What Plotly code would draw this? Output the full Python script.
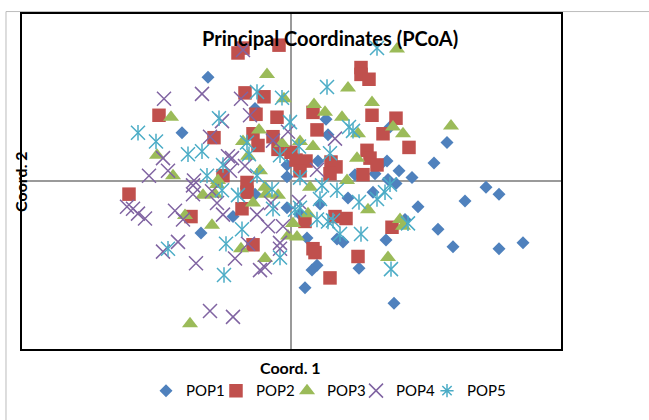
import plotly.graph_objects as go

# PCoA coordinates (Coord. 1, Coord. 2)
pop1 = [(-0.83, 1.06), (-1.09, 0.49), (-0.36, 0.74), (0.35, 0.63), (0.37, 0.47), (0.27, 0.20),
        (-0.04, 0.16), (-0.04, 0.04), (0.99, 0.55), (1.56, 0.39), (1.43, 0.18), (0.96, 0.20),
        (1.08, 0.10), (1.21, 0.03), (0.64, 0.06), (0.84, 0.07), (0.89, 0.16), (0.97, 0.01),
        (1.05, -0.03), (-0.90, -0.54), (-0.36, -0.14), (-0.58, -0.37), (-0.04, -0.28), (0.09, -0.35),
        (0.16, -0.59), (0.29, -0.24), (0.57, -0.18), (0.46, -0.60), (0.52, -0.63), (0.26, -0.87),
        (0.21, -0.92), (0.14, -1.10), (0.82, -0.12), (1.27, -0.27), (1.74, -0.21), (1.95, -0.07),
        (2.08, -0.14), (1.14, -0.40), (0.95, -0.61), (1.47, -0.50), (1.62, -0.68), (2.08, -0.70),
        (2.32, -0.64), (0.68, -0.90), (1.03, -1.26)]

pop2 = [(-0.53, 1.31), (-0.48, 1.36), (-0.12, 1.39), (-0.46, 0.90), (-0.27, 0.86), (-0.35, 0.68),
        (-0.14, 0.65), (-1.32, 0.67), (-0.77, 0.44), (-0.38, 0.48), (-0.18, 0.45), (-0.33, 0.36),
        (-0.13, 0.32), (0.00, 0.29), (0.05, 0.21), (0.15, 0.20), (0.40, 0.19), (0.45, 0.14),
        (0.39, 0.07), (0.09, 0.10), (-0.44, -0.02), (-0.68, 0.05), (0.22, 0.70), (0.26, 0.52),
        (0.70, 1.16), (0.70, 1.09), (0.78, 1.04), (0.81, 0.67), (1.05, 0.64), (0.92, 0.48),
        (1.18, 0.34), (0.76, 0.31), (0.79, 0.23), (0.86, 0.16), (0.72, 0.06), (-1.62, -0.14),
        (-1.00, -0.37), (-0.44, -0.12), (-0.49, -0.29), (0.14, -0.42), (0.44, -0.37), (0.55, -0.39),
        (-0.38, -0.66), (0.22, -0.70), (0.24, -0.74), (0.39, -1.00), (1.01, -0.48), (0.67, -0.78)]

pop3 = [(-1.20, 0.65), (-1.34, 0.26), (-1.18, 0.05), (-0.73, 0.00), (-0.24, 1.09), (0.57, 0.95),
        (-0.07, 0.84), (0.23, 0.78), (0.34, 0.70), (0.51, 0.65), (-0.32, 0.52), (-0.48, 0.40),
        (-0.09, 0.38), (0.09, 0.40), (0.22, 0.35), (-0.31, 0.10), (-0.43, 0.25), (0.56, 0.00),
        (1.06, 1.35), (0.81, 0.80), (0.67, 0.48), (1.02, 0.55), (1.12, 0.48), (1.60, 0.56),
        (0.66, 0.23), (-1.06, -0.36), (-0.79, -0.46), (-0.88, -0.15), (-0.76, -0.14), (-0.74, -0.04),
        (-0.38, -0.23), (-0.26, -0.07), (-0.25, -0.14), (-0.13, -0.15), (0.17, -0.34), (0.02, -0.44),
        (-0.03, -0.57), (0.06, -0.58), (0.19, -0.07), (-0.50, -0.70), (-0.26, -0.80), (0.77, -0.30),
        (1.09, -0.40), (1.12, -0.47), (0.97, -0.79), (-1.01, -1.47)]

pop4 = [(-0.48, 1.34), (-0.89, 0.89), (-1.27, 0.84), (-0.69, 0.61), (-0.81, 0.45), (-1.28, 0.23),
        (-1.23, 0.10), (-1.42, 0.05), (-0.97, 0.00), (-0.63, 0.25), (-0.50, 0.84), (-0.41, 0.67),
        (0.44, 0.43), (-0.03, 0.50), (-0.18, 0.41), (-0.59, 0.23), (-0.46, 0.15), (-0.61, 0.10),
        (0.26, 0.11), (-1.64, -0.27), (-1.58, -0.29), (-1.53, -0.34), (-1.46, -0.39), (-1.16, -0.31),
        (-1.08, -0.40), (-0.98, -0.05), (-0.98, -0.14), (-0.79, -0.11), (-0.74, -0.23), (-0.68, -0.35),
        (-1.13, -0.63), (-1.28, -0.73), (-0.95, -0.85), (-0.81, -1.34), (-0.58, -1.40), (-0.20, -0.23),
        (-0.34, -0.35), (-0.23, -0.47), (-0.08, -0.47), (-0.43, -0.65), (-0.56, -0.80), (-0.31, -0.92),
        (-0.26, -0.89), (-0.11, -0.70), (-0.11, -0.64), (0.08, -0.22)]

pop5 = [(0.86, 1.36), (-0.72, 0.64), (-1.53, 0.49), (-1.35, 0.40), (-1.03, 0.27), (-0.89, 0.30),
        (-0.68, 0.16), (-0.84, 0.05), (0.36, 0.96), (-0.34, 0.91), (-0.09, 0.85), (-0.01, 0.60),
        (0.58, 0.55), (-0.44, 0.39), (-0.11, 0.26), (0.08, 0.35), (0.39, 0.28), (0.09, 0.03),
        (-0.42, 0.27), (-0.34, 0.05), (0.62, 0.51), (0.99, -0.04), (-0.69, -0.10), (-0.65, -0.65),
        (-1.23, -0.70), (-0.67, -0.97), (-0.53, -0.15), (-0.19, -0.09), (-0.18, -0.29), (-0.49, -0.50),
        (0.04, -0.30), (0.09, -0.28), (0.26, -0.40), (0.29, -0.19), (0.31, -0.05), (0.46, -0.10),
        (0.37, -0.42), (0.42, -0.41), (0.49, -0.55), (-0.11, -0.79), (0.68, -0.22), (0.86, -0.19),
        (0.94, -0.12), (1.17, -0.44), (0.70, -0.55), (1.00, -0.91)]

names = ["POP1", "POP2", "POP3", "POP4", "POP5"]
colors = ["#4F81BD", "#C0504D", "#9BBB59", "#8064A2", "#4BACC6"]

FONT = "Lato, Carlito, Calibri, sans-serif"


def xs(p):
    return [a for a, b in p]


def ys(p):
    return [b for a, b in p]


fig = go.Figure()

fig.add_trace(go.Scatter(x=xs(pop1), y=ys(pop1), mode="markers", name=names[0], legend="legend",
                         marker=dict(symbol="diamond", size=10, color=colors[0], line=dict(width=0))))
fig.add_trace(go.Scatter(x=xs(pop2), y=ys(pop2), mode="markers", name=names[1], legend="legend2",
                         marker=dict(symbol="square", size=13.5, color=colors[1], line=dict(width=0))))
fig.add_trace(go.Scatter(x=xs(pop3), y=ys(pop3), mode="markers", name=names[2], legend="legend3",
                         marker=dict(symbol="triangle-up", size=14, color=colors[2], line=dict(width=0))))
fig.add_trace(go.Scatter(x=xs(pop4), y=ys(pop4), mode="markers", name=names[3], legend="legend4",
                         marker=dict(symbol="x-thin-open", size=14, color=colors[3],
                                     line=dict(width=1.5, color=colors[3]))))
# POP5: six-armed star = thin x + vertical bar
fig.add_trace(go.Scatter(x=xs(pop5), y=ys(pop5), mode="markers", name=names[4], showlegend=False,
                         legendgroup="p5",
                         marker=dict(symbol="x-thin-open", size=14, color=colors[4],
                                     line=dict(width=1.5, color=colors[4]))))
fig.add_trace(go.Scatter(x=xs(pop5), y=ys(pop5), mode="markers", name=names[4], showlegend=False,
                         legendgroup="p5",
                         marker=dict(symbol="line-ns-open", size=11, color=colors[4],
                                     line=dict(width=1.5, color=colors[4]))))
fig.add_trace(go.Scatter(x=[None], y=[None], mode="markers", name=names[4], legend="legend5",
                         legendgroup="p5",
                         marker=dict(symbol="asterisk-open", size=11, color=colors[4],
                                     line=dict(width=1.5, color=colors[4]))))

axis_common = dict(showgrid=False, zeroline=True, zerolinecolor="#9a9a9a", zerolinewidth=1.5,
                   showline=True, mirror=True, linecolor="black", linewidth=1.5,
                   showticklabels=False, ticks="", fixedrange=True)

fig.update_xaxes(range=[-2.69, 2.70], **axis_common)
fig.update_yaxes(range=[-1.73, 1.71], **axis_common)

leg_common = dict(orientation="h", yanchor="middle", xanchor="left", y=-0.125,
                  font=dict(family=FONT, size=15, color="black"), bgcolor="rgba(0,0,0,0)",
                  itemwidth=30)
leg_x = [0.2301, 0.3599, 0.4917, 0.6197, 0.7514]

fig.update_layout(
    width=649, height=420,
    margin=dict(l=22, r=88, t=12, b=64),
    paper_bgcolor="white", plot_bgcolor="white",
    font=dict(family=FONT, color="black"),
    legend=dict(x=leg_x[0], **leg_common),
    legend2=dict(x=leg_x[1], **leg_common),
    legend3=dict(x=leg_x[2], **leg_common),
    legend4=dict(x=leg_x[3], **leg_common),
    legend5=dict(x=leg_x[4], **leg_common),
    annotations=[
        dict(text="<b>Principal Coordinates (PCoA)</b>", x=0.5714, y=0.9273, xref="paper", yref="paper",
             xanchor="center", yanchor="middle", showarrow=False, font=dict(family=FONT, size=20)),
        dict(text="<b>Coord. 1</b>", x=0.499, y=-0.054, xref="paper", yref="paper",
             xanchor="center", yanchor="middle", showarrow=False, font=dict(family=FONT, size=16)),
        dict(text="<b>Coord. 2</b>", x=-0.0019, y=0.5015, xref="paper", yref="paper", textangle=-90,
             xanchor="center", yanchor="middle", showarrow=False, font=dict(family=FONT, size=16)),
    ],
    shapes=[
        dict(type="line", xref="paper", yref="paper", x0=-0.0297, x1=1.25, y0=1.0073, y1=1.0073,
             line=dict(color="#bcbcbc", width=1), layer="below"),
        dict(type="line", xref="paper", yref="paper", x0=-0.0297, x1=-0.0297, y0=1.0073, y1=-0.25,
             line=dict(color="#bcbcbc", width=1), layer="below"),
    ],
)

fig.write_html("out.html", config={"displayModeBar": False},
               post_script="document.body.style.margin='0px';")
